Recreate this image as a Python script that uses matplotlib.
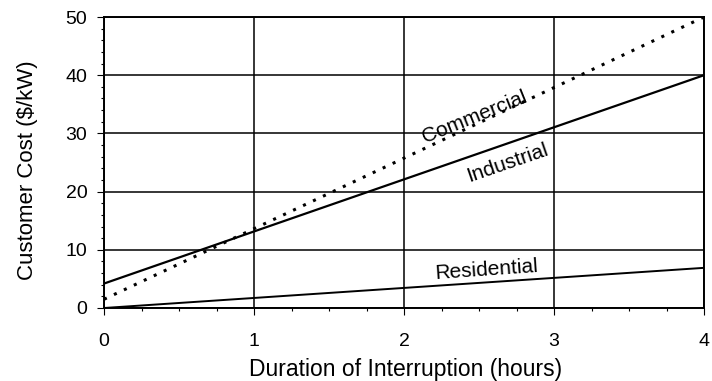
import numpy as np
import matplotlib
matplotlib.use('Agg')
import matplotlib.pyplot as plt
from matplotlib.ticker import MultipleLocator

plt.rcParams['font.family'] = ['Liberation Sans', 'DejaVu Sans']

# cost lines: endpoints at 0 and 4 hours
hours = [0, 4]
commercial = [1.5, 50]
industrial = [4.2, 40]
residential = [0, 6.9]

fig = plt.figure(figsize=(7.12, 3.81), dpi=100)
ax = fig.add_axes([104 / 712, 1 - 308 / 381, 600 / 712, 291 / 381])

ax.plot(hours, industrial, color='black', lw=1.6)
ax.plot(hours, residential, color='black', lw=1.4)
ax.plot(hours, commercial, color='black', lw=2.2, linestyle=(0, (1, 2.6)))

ax.set_xlim(0, 4)
ax.set_ylim(0, 50)
ax.xaxis.set_major_locator(MultipleLocator(1))
ax.xaxis.set_minor_locator(MultipleLocator(0.25))
ax.yaxis.set_major_locator(MultipleLocator(10))
ax.yaxis.set_minor_locator(MultipleLocator(2))
ax.tick_params(which='major', length=5, width=0.8, labelsize=14)
ax.tick_params(which='minor', length=2.5, width=0.8)
ax.tick_params(axis='x', which='major', pad=13)
ax.tick_params(axis='y', which='major', pad=7)
ax.grid(True, which='major', color='black', lw=1.1)
for s in ax.spines.values():
    s.set_linewidth(1.4)

ax.set_xlabel('Duration of Interruption (hours)', fontsize=16.5)
ax.set_ylabel('Customer Cost ($/kW)', fontsize=16)
ax.xaxis.set_label_coords(0.5025, -0.172)
ax.yaxis.set_label_coords(-0.11, 0.475)

ax.text(2.47, 32.8, 'Commercial', fontsize=15, rotation=22, ha='center', va='center')
ax.text(2.69, 25.0, 'Industrial', fontsize=15, rotation=19, ha='center', va='center')
ax.text(2.55, 6.6, 'Residential', fontsize=15, rotation=4, ha='center', va='center')

fig.savefig('out.png', dpi=100)
